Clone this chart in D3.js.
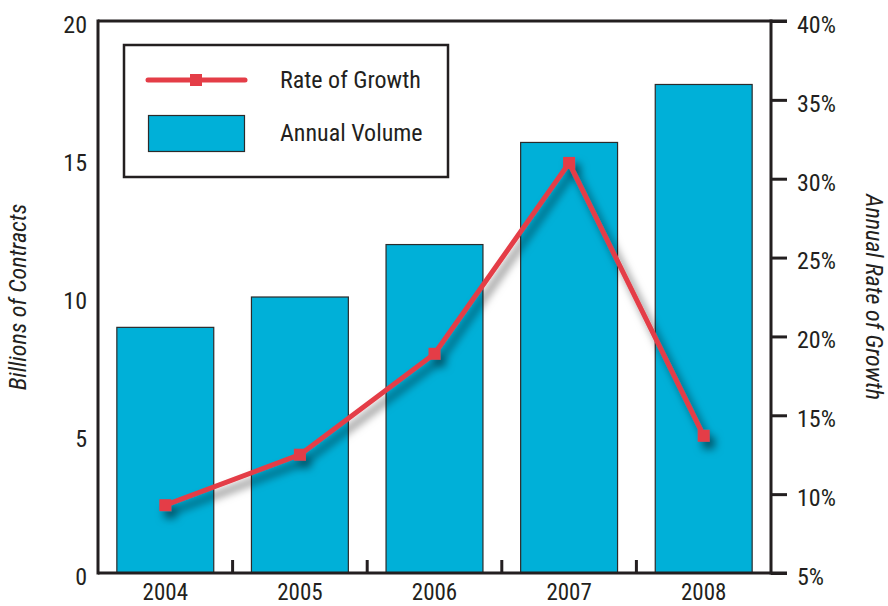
<!DOCTYPE html>
<html>
<head>
<meta charset="utf-8">
<script src="https://cdn.jsdelivr.net/npm/d3@7"></script>
<style>
  html, body { margin: 0; padding: 0; background: #fff; }
  svg { display: block; }
  .lbl { font-family: "Liberation Sans Narrow", "Arial Narrow", "Roboto Condensed", "Liberation Sans", sans-serif; font-stretch: condensed; fill: #231f20; }
</style>
</head>
<body>
<svg id="chart" width="888" height="606"></svg>
<script>
// Annual contract volume and growth rate, 2004–2008
const years = ["2004", "2005", "2006", "2007", "2008"];
const volume = [8.9, 10.0, 11.9, 15.6, 17.7];          // billions of contracts
const growth = [9.3, 12.5, 18.9, 31.0, 13.7];          // percent
const volumeTicks = [0, 5, 10, 15, 20];
const growthTicks = [5, 10, 15, 20, 25, 30, 35, 40];

const svg = d3.select("#chart");
const pLeft = 98, pRight = 771, pTop = 21, pBottom = 573;

const x = d3.scaleBand().domain(years).range([pLeft, pRight]).padding(0);
const yVol = d3.scaleLinear().domain([0, 20]).range([pBottom, pTop]);
const yRate = d3.scaleLinear().domain([5, 40]).range([pBottom, pTop]);

const BLUE = "#00b0d8", RED = "#e43d47", INK = "#231f20";

// Soft drop shadow for the growth line
const defs = svg.append("defs");
const f = defs.append("filter").attr("id", "shadow")
  .attr("x", "-20%").attr("y", "-20%").attr("width", "140%").attr("height", "140%");
f.append("feDropShadow").attr("dx", 5).attr("dy", 7).attr("stdDeviation", 4.5)
  .attr("flood-color", "#000").attr("flood-opacity", 0.55);

// Bars
const barW = x.bandwidth() * 0.72;
svg.append("g").selectAll("rect").data(years).join("rect")
  .attr("x", d => x(d) + (x.bandwidth() - barW) / 2)
  .attr("y", (d, i) => yVol(volume[i]))
  .attr("width", barW)
  .attr("height", (d, i) => pBottom - yVol(volume[i]))
  .attr("fill", BLUE)
  .attr("stroke", "#2b2b2b")
  .attr("stroke-width", 1.2);

// Frame lines
const frame = svg.append("g").attr("stroke", INK).attr("stroke-width", 3).attr("fill", "none");
frame.append("line").attr("x1", pLeft).attr("x2", pLeft).attr("y1", pTop - 1.5).attr("y2", pBottom + 1.5);
frame.append("line").attr("x1", pLeft).attr("x2", pRight + 16).attr("y1", pTop).attr("y2", pTop);
frame.append("line").attr("x1", pLeft).attr("x2", pRight + 16).attr("y1", pBottom).attr("y2", pBottom);

// Category separators along the bottom
svg.append("g").selectAll("line").data(years.slice(1)).join("line")
  .attr("x1", d => x(d)).attr("x2", d => x(d))
  .attr("y1", pBottom - 13).attr("y2", pBottom)
  .attr("stroke", INK).attr("stroke-width", 3);

// Left axis (volume)
const axL = svg.append("g").attr("transform", `translate(${pLeft},0)`)
  .call(d3.axisLeft(yVol).tickValues(volumeTicks).tickSize(0).tickPadding(11).tickFormat(d3.format("d")));
axL.select(".domain").remove();
axL.selectAll("text").attr("class", "lbl").style("font-size", "24px").attr("dy", "0.68em")
  .attr("transform", "translate(0,-5)");

// Right axis (growth)
const axR = svg.append("g").attr("transform", `translate(${pRight},0)`)
  .call(d3.axisRight(yRate).tickValues(growthTicks).tickSize(16).tickPadding(10).tickFormat(d => d + "%"));
axR.select(".domain").attr("stroke", INK).attr("stroke-width", 3).attr("d", `M0,${pTop - 1.5}V${pBottom + 1.5}`);
axR.selectAll(".tick line").attr("stroke", INK).attr("stroke-width", 3);
axR.selectAll("text").attr("class", "lbl").style("font-size", "24px").attr("dy", "0.68em")
  .attr("transform", "translate(0,-5)");

// Bottom axis (years)
const axB = svg.append("g").attr("transform", `translate(0,${pBottom})`)
  .call(d3.axisBottom(x).tickSize(0).tickPadding(11));
axB.select(".domain").remove();
axB.selectAll("text").attr("class", "lbl").style("font-size", "23px").attr("dy", "0.7em");

// Axis titles
svg.append("text").attr("class", "lbl")
  .attr("transform", `translate(26,${(pTop + pBottom) / 2}) rotate(-90)`)
  .attr("text-anchor", "middle").style("font-size", "24px").style("font-style", "italic")
  .text("Billions of Contracts");
svg.append("text").attr("class", "lbl")
  .attr("transform", `translate(866,${(pTop + pBottom) / 2}) rotate(90)`)
  .attr("text-anchor", "middle").style("font-size", "24px").style("font-style", "italic")
  .text("Annual Rate of Growth");

// Growth line with square markers
const cx = d => x(d) + x.bandwidth() / 2;
const lineG = svg.append("g").attr("filter", "url(#shadow)");
lineG.append("path")
  .datum(years)
  .attr("d", d3.line().x(cx).y((d, i) => yRate(growth[i])))
  .attr("fill", "none").attr("stroke", RED).attr("stroke-width", 5).attr("stroke-linejoin", "round");
const ms = 12;
lineG.selectAll("rect").data(years).join("rect")
  .attr("x", d => cx(d) - ms / 2)
  .attr("y", (d, i) => yRate(growth[i]) - ms / 2)
  .attr("width", ms).attr("height", ms).attr("fill", RED);

// Legend
const lg = svg.append("g");
lg.append("rect").attr("x", 124).attr("y", 45).attr("width", 324).attr("height", 132)
  .attr("fill", "#fff").attr("stroke", INK).attr("stroke-width", 2.5);
lg.append("line").attr("x1", 148).attr("x2", 245).attr("y1", 80).attr("y2", 80)
  .attr("stroke", RED).attr("stroke-width", 5).attr("stroke-linecap", "round");
lg.append("rect").attr("x", 190).attr("y", 74).attr("width", 12).attr("height", 12).attr("fill", RED);
lg.append("rect").attr("x", 148.5).attr("y", 115.5).attr("width", 96).attr("height", 36)
  .attr("fill", BLUE).attr("stroke", "#2b2b2b").attr("stroke-width", 1.2);
lg.append("text").attr("class", "lbl").attr("x", 280).attr("y", 88).style("font-size", "24px").text("Rate of Growth");
lg.append("text").attr("class", "lbl").attr("x", 280).attr("y", 141).style("font-size", "24px").text("Annual Volume");
</script>
</body>
</html>
